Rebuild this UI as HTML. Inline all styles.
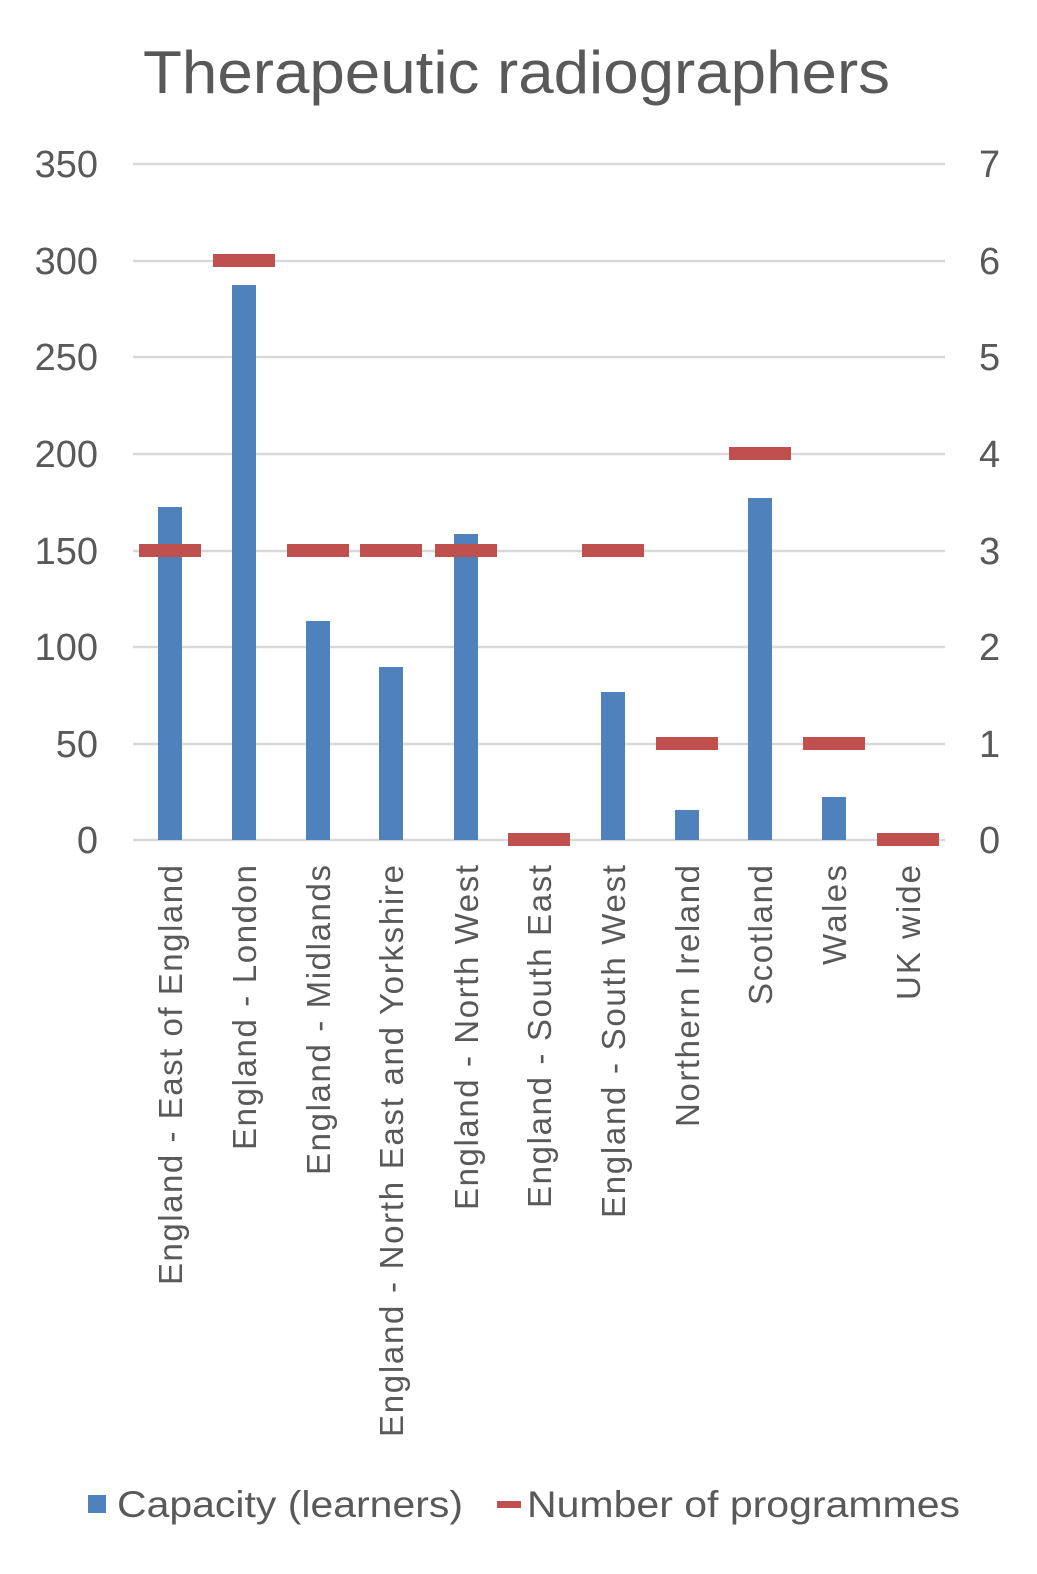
<!DOCTYPE html>
<html><head><meta charset="utf-8"><style>
html,body{margin:0;padding:0;background:#fff;}
svg{display:block;font-family:"Liberation Sans",Arial,sans-serif;}
</style></head><body>
<svg width="1037" height="1574" viewBox="0 0 1037 1574">
<text x="143" y="93" font-size="60" fill="#595959" textLength="747" lengthAdjust="spacingAndGlyphs">Therapeutic radiographers</text>
<g stroke="#d9d9d9" stroke-width="2.5">
<line x1="133" x2="945" y1="164" y2="164"/>
<line x1="133" x2="945" y1="261" y2="261"/>
<line x1="133" x2="945" y1="357" y2="357"/>
<line x1="133" x2="945" y1="454" y2="454"/>
<line x1="133" x2="945" y1="551" y2="551"/>
<line x1="133" x2="945" y1="647" y2="647"/>
<line x1="133" x2="945" y1="744" y2="744"/>
<line x1="133" x2="945" y1="840" y2="840"/>
</g>
<g font-size="38" fill="#595959" text-anchor="end">
<text x="98" y="177">350</text><text x="98" y="274">300</text><text x="98" y="370">250</text>
<text x="98" y="467">200</text><text x="98" y="564">150</text><text x="98" y="660">100</text>
<text x="98" y="757">50</text><text x="98" y="853">0</text>
</g>
<g font-size="38" fill="#595959">
<text x="979" y="177">7</text><text x="979" y="274">6</text><text x="979" y="370">5</text>
<text x="979" y="467">4</text><text x="979" y="564">3</text><text x="979" y="660">2</text>
<text x="979" y="757">1</text><text x="979" y="853">0</text>
</g>
<g fill="#4f81bd">
<rect x="158" y="507" width="24" height="333"/>
<rect x="232" y="285" width="24" height="555"/>
<rect x="306" y="621" width="24" height="219"/>
<rect x="379" y="667" width="24" height="173"/>
<rect x="454" y="534" width="24" height="306"/>
<rect x="601" y="692" width="24" height="148"/>
<rect x="675" y="810" width="24" height="30"/>
<rect x="748" y="498" width="24" height="342"/>
<rect x="822" y="797" width="24" height="43"/>
</g>
<g fill="#c0504d">
<rect x="139" y="544" width="62" height="13"/>
<rect x="213" y="254" width="62" height="13"/>
<rect x="287" y="544" width="62" height="13"/>
<rect x="360" y="544" width="62" height="13"/>
<rect x="435" y="544" width="62" height="13"/>
<rect x="508" y="833" width="62" height="13"/>
<rect x="582" y="544" width="62" height="13"/>
<rect x="656" y="737" width="62" height="13"/>
<rect x="729" y="447" width="62" height="13"/>
<rect x="803" y="737" width="62" height="13"/>
<rect x="877" y="833" width="62" height="13"/>
</g>
<g font-size="33" fill="#595959" text-anchor="end" lengthAdjust="spacingAndGlyphs">
<text transform="translate(182,865) rotate(-90)" textLength="420">England - East of England</text>
<text transform="translate(256,865) rotate(-90)" textLength="285">England - London</text>
<text transform="translate(330,865) rotate(-90)" textLength="310">England - Midlands</text>
<text transform="translate(403,865) rotate(-90)" textLength="572">England - North East and Yorkshire</text>
<text transform="translate(478,865) rotate(-90)" textLength="345">England - North West</text>
<text transform="translate(551,865) rotate(-90)" textLength="343">England - South East</text>
<text transform="translate(625,865) rotate(-90)" textLength="353">England - South West</text>
<text transform="translate(699,865) rotate(-90)" textLength="262">Northern Ireland</text>
<text transform="translate(772,865) rotate(-90)" textLength="140">Scotland</text>
<text transform="translate(846,865) rotate(-90)" textLength="100">Wales</text>
<text transform="translate(920,865) rotate(-90)" textLength="135">UK wide</text>
</g>
<rect x="88" y="1495" width="18" height="18" fill="#4f81bd"/>
<text x="117" y="1517" font-size="37" fill="#595959" textLength="346" lengthAdjust="spacingAndGlyphs">Capacity (learners)</text>
<rect x="497" y="1501" width="24" height="7" fill="#c0504d"/>
<text x="527" y="1517" font-size="37" fill="#595959" textLength="433" lengthAdjust="spacingAndGlyphs">Number of programmes</text>
</svg>
</body></html>
